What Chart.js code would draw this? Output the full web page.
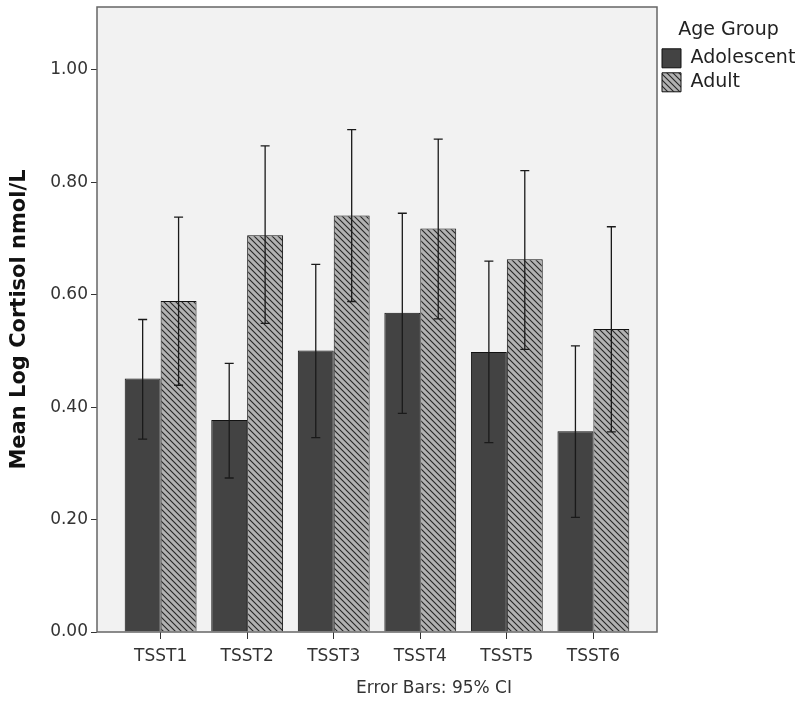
<!DOCTYPE html>
<html>
<head>
<meta charset="utf-8">
<script src="https://cdn.jsdelivr.net/npm/chart.js@4.4.1/dist/chart.umd.min.js"></script>
<style>
  html, body { margin: 0; padding: 0; background: #fff; }
  #wrap { width: 800px; height: 707px; }
</style>
</head>
<body>
<div id="wrap"><canvas id="chart" width="800" height="707"></canvas></div>
<script>
const labels = ["TSST1", "TSST2", "TSST3", "TSST4", "TSST5", "TSST6"];
const positions = [1, 2, 3, 4, 5, 6];
const yTicks = [0, 0.2, 0.4, 0.6, 0.8, 1.0];

const adolescentMean = [0.451, 0.377, 0.501, 0.568, 0.498, 0.357];
const adolescentLow = [0.343, 0.274, 0.346, 0.389, 0.337, 0.204];
const adolescentHigh = [0.556, 0.478, 0.654, 0.745, 0.660, 0.509];

const adultMean = [0.589, 0.706, 0.741, 0.718, 0.663, 0.539];
const adultLow = [0.439, 0.549, 0.588, 0.557, 0.503, 0.356];
const adultHigh = [0.738, 0.865, 0.894, 0.877, 0.821, 0.721];

const FONT = "'DejaVu Sans', sans-serif";

function hatchPattern() {
  const s = 6;
  const c = document.createElement("canvas");
  c.width = s;
  c.height = s;
  const g = c.getContext("2d");
  g.fillStyle = "#b2b2b2";
  g.fillRect(0, 0, s, s);
  g.strokeStyle = "#262626";
  g.lineWidth = 1.1;
  g.beginPath();
  g.moveTo(0, 0); g.lineTo(s, s);
  g.moveTo(-1, s - 1); g.lineTo(1, s + 1);
  g.moveTo(s - 1, -1); g.lineTo(s + 1, 1);
  g.stroke();
  return g.createPattern(c, "repeat");
}

const ctx = document.getElementById("chart").getContext("2d");
const hatch = hatchPattern();

// plot frame + background
const framePlugin = {
  id: "frame",
  beforeDraw(chart) {
    const a = chart.chartArea;
    const c = chart.ctx;
    c.save();
    c.fillStyle = "#f2f2f2";
    c.fillRect(a.left, a.top, a.right - a.left, a.bottom - a.top);
    c.restore();
  },
  afterDatasetsDraw(chart) {
    const a = chart.chartArea;
    const c = chart.ctx;
    c.save();
    c.strokeStyle = "#666";
    c.lineWidth = 1.5;
    c.strokeRect(a.left, a.top, a.right - a.left, a.bottom - a.top);
    c.restore();
  },
};

// 95% CI whiskers
const errorBarPlugin = {
  id: "errorBars",
  afterDatasetsDraw(chart) {
    const c = chart.ctx;
    const y = chart.scales.y;
    const ranges = [
      [adolescentLow, adolescentHigh],
      [adultLow, adultHigh],
    ];
    c.save();
    c.strokeStyle = "#1a1a1a";
    c.lineWidth = 1.3;
    ranges.forEach((r, di) => {
      const meta = chart.getDatasetMeta(di);
      meta.data.forEach((bar, i) => {
        const x = bar.x;
        const lo = y.getPixelForValue(r[0][i]);
        const hi = y.getPixelForValue(r[1][i]);
        c.beginPath();
        c.moveTo(x, lo); c.lineTo(x, hi);
        c.moveTo(x - 4.5, lo); c.lineTo(x + 4.5, lo);
        c.moveTo(x - 4.5, hi); c.lineTo(x + 4.5, hi);
        c.stroke();
      });
    });
    c.restore();
  },
};

const notePlugin = {
  id: "note",
  afterDraw(chart) {
    const c = chart.ctx;
    c.save();
    c.fillStyle = "#333";
    c.font = "17px " + FONT;
    c.textAlign = "center";
    c.textBaseline = "middle";
    c.fillText("Error Bars: 95% CI", 434, 689);
    c.restore();
  },
};

new Chart(ctx, {
  type: "bar",
  data: {
    datasets: [
      {
        label: "Adolescent",
        data: positions.map((x, i) => ({ x, y: adolescentMean[i] })),
        backgroundColor: "#434343",
        borderColor: "#111",
        borderWidth: 1,
      },
      {
        label: "Adult",
        data: positions.map((x, i) => ({ x, y: adultMean[i] })),
        backgroundColor: hatch,
        borderColor: "#111",
        borderWidth: 1,
      },
    ],
  },
  options: {
    responsive: false,
    animation: false,
    events: [],
    categoryPercentage: 0.83,
    barPercentage: 1.0,
    layout: { padding: { top: 7, left: 0, right: 0, bottom: 0 } },
    scales: {
      x: {
        type: "linear",
        min: 0.265,
        max: 6.735,
        offset: false,
        afterBuildTicks(scale) {
          scale.ticks = positions.map((v) => ({ value: v }));
        },
        afterFit(scale) {
          scale.height = 75;
          scale.paddingLeft = 0;
          scale.paddingRight = 0;
        },
        ticks: {
          callback: (v, i) => labels[i],
          color: "#333",
          font: { family: FONT, size: 17 },
          padding: 7,
          maxRotation: 0,
        },
        grid: {
          offset: false,
          drawOnChartArea: false,
          drawTicks: true,
          tickLength: 7,
          color: "#333",
        },
        border: { display: false },
      },
      y: {
        min: 0,
        max: 1.112,
        afterBuildTicks(scale) {
          scale.ticks = yTicks.map((v) => ({ value: v }));
        },
        afterFit(scale) {
          scale.width = 97;
          scale.paddingTop = 0;
          scale.paddingBottom = 0;
        },
        ticks: {
          callback: (v) => Number(v).toFixed(2),
          color: "#333",
          font: { family: FONT, size: 17 },
          padding: 3,
        },
        grid: {
          drawOnChartArea: false,
          drawTicks: true,
          tickLength: 6,
          color: "#333",
        },
        border: { display: false },
        title: {
          display: true,
          text: "Mean Log Cortisol nmol/L",
          color: "#111",
          font: { family: FONT, size: 21, weight: "bold" },
          padding: { top: 7, bottom: 0 },
        },
      },
    },
    plugins: {
      tooltip: { enabled: false },
      legend: {
        position: "right",
        align: "start",
        maxWidth: 143,
        title: {
          display: true,
          text: "Age Group",
          color: "#222",
          font: { family: FONT, size: 19 },
          padding: { top: 14, bottom: 0 },
        },
        labels: {
          boxWidth: 19,
          boxHeight: 19,
          padding: 5,
          color: "#222",
          font: { family: FONT, size: 19 },
        },
      },
    },
  },
  plugins: [framePlugin, errorBarPlugin, notePlugin],
});
</script>
</body>
</html>
